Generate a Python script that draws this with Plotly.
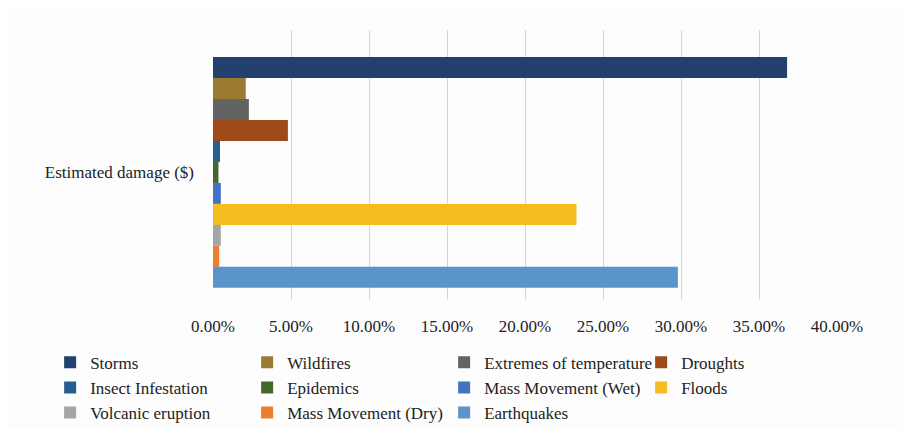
import plotly.graph_objects as go

# --- dados (fração do dano estimado) ---
categoria = ["Estimated damage ($)"]
series = ["Storms", "Wildfires", "Extremes of temperature", "Droughts",
          "Insect Infestation", "Epidemics", "Mass Movement (Wet)", "Floods",
          "Volcanic eruption", "Mass Movement (Dry)", "Earthquakes"]
valores = [0.368, 0.021, 0.023, 0.048,
           0.0045, 0.0035, 0.005, 0.233,
           0.005, 0.004, 0.298]
cores = ["#22416F", "#9B7A31", "#636363", "#9F4818",
         "#255E91", "#43682B", "#4472C4", "#F5BD1F",
         "#A5A5A5", "#ED7D31", "#5B94CA"]
ticks_x = [0, 0.05, 0.10, 0.15, 0.20, 0.25, 0.30, 0.35, 0.40]

FONTE = "Liberation Serif, Times New Roman, serif"

fig = go.Figure()
for nome, valor, cor in zip(series, valores, cores):
    fig.add_trace(go.Bar(
        x=[valor], y=categoria, name=nome, orientation="h",
        marker=dict(color=cor, line=dict(width=0)),
    ))

fig.update_layout(
    width=910, height=428,
    margin=dict(l=205, r=81, t=22, b=136, autoexpand=False),
    barmode="group", bargap=0.05, bargroupgap=0,
    paper_bgcolor="#FDFDFE", plot_bgcolor="#FDFDFE",
    font=dict(family=FONTE, size=17, color="#222222"),
    showlegend=True,
    legend=dict(
        orientation="h",
        x=-0.261, y=-0.166, xanchor="left", yanchor="top",
        entrywidth=152, entrywidthmode="pixels",
        font=dict(family=FONTE, size=17, color="#222222"),
        itemwidth=30, tracegroupgap=0,
        bgcolor="rgba(0,0,0,0)",
    ),
)
fig.update_xaxes(
    range=[0, 0.40], tickvals=ticks_x, tickformat=".2%",
    showgrid=True, gridcolor="#CBD8E4", gridwidth=1,
    zeroline=False, showline=False, ticklabelstandoff=14,
)
fig.update_yaxes(
    range=[0.525, -0.586], showgrid=False, zeroline=False, showline=False,
    ticklabelstandoff=18,
)

fig.write_html("out.html")
